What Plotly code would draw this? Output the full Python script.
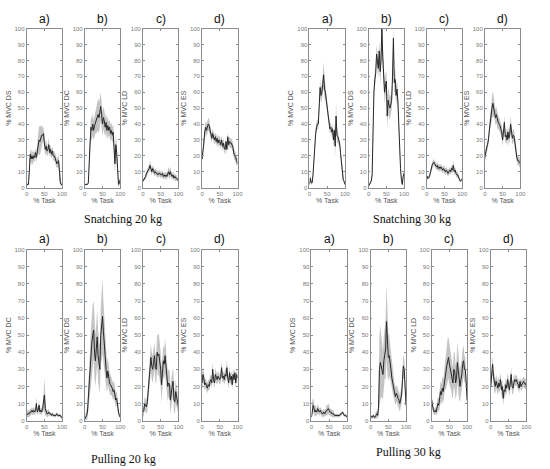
import plotly.graph_objects as go

W, H = 550, 469

CLR_BAND = "#c4c4c4"
CLR_MEAN = "#262626"
CLR_AXIS = "#8c8c8c"
CLR_TICK = "#7a7a7a"
FONT_SANS = "Liberation Sans, Arial, sans-serif"
FONT_SERIF = "Liberation Serif, Times New Roman, serif"

# % of task (x values shared by all panels)
TASK = [0, 2.5, 5, 7.5, 10, 12.5, 15, 17.5, 20, 22.5, 25, 27.5, 30, 32.5, 35, 37.5, 40, 42.5, 45, 47.5,
        50, 52.5, 55, 57.5, 60, 62.5, 65, 67.5, 70, 72.5, 75, 77.5, 80, 82.5, 85, 87.5, 90, 92.5, 95, 97.5, 100]

PANEL_TAGS = ["a)", "b)", "c)", "d)"]

# ---- Snatching 20 kg
SN20_MUSCLES = ["DS", "DC", "LD", "ES"]
SN20_A_MEAN = [2, 2, 2, 10, 21, 18, 20, 18, 20, 19, 22, 19, 23, 27, 30, 29, 31, 33, 33, 34,
               28, 24, 26, 23, 24, 27, 22, 24, 21, 23, 20, 20, 19, 17, 15, 16, 17, 10, 3, 2, 2]
SN20_A_SD = [0.5, 0.5, 1, 4, 4, 4, 4, 4, 3, 3, 3, 3, 4, 6, 9, 9, 8, 6, 5, 4,
             4, 4, 4, 3, 4, 4, 3, 3, 3, 3, 3, 3, 3, 3, 3, 3, 4, 5, 2, 1, 1]
SN20_B_MEAN = [2, 2, 2, 2, 3, 20, 28, 38, 36, 40, 36, 39, 41, 42, 44, 46, 44, 47, 51, 46,
               40, 44, 42, 38, 41, 36, 39, 36, 38, 34, 36, 33, 35, 25, 15, 27, 22, 12, 2, 3, 5]
SN20_B_SD = [0.5, 0.5, 0.5, 0.5, 1, 5, 6, 7, 7, 7, 6, 6, 7, 8, 9, 10, 10, 9, 9, 8,
             7, 7, 7, 6, 6, 6, 6, 5, 5, 5, 5, 5, 5, 6, 6, 6, 6, 4, 2, 2, 2]
SN20_C_MEAN = [4, 5, 6, 7, 9, 10, 11, 12, 14, 11, 10, 12, 11, 9, 10, 9, 9, 8, 9, 9,
               8, 8, 9, 7, 8, 7, 8, 7, 9, 10, 8, 10, 8, 7, 8, 6, 7, 6, 6, 5, 5]
SN20_C_SD = [1, 1, 1, 2, 2, 2, 2, 2, 3, 2, 2, 2, 2, 2, 2, 2, 2, 2, 2, 2,
             2, 2, 2, 2, 2, 2, 2, 2, 2, 3, 3, 3, 2, 2, 2, 2, 2, 2, 2, 1, 1]
SN20_D_MEAN = [18, 22, 28, 35, 38, 36, 38, 40, 39, 36, 33, 31, 34, 31, 30, 32, 29, 31, 28, 30,
               29, 27, 30, 26, 28, 25, 24, 29, 24, 32, 27, 29, 28, 28, 26, 25, 21, 20, 19, 17, 15]
SN20_D_SD = [2, 3, 3, 4, 4, 4, 4, 4, 4, 3, 3, 3, 3, 3, 3, 3, 3, 3, 3, 3,
             3, 3, 3, 3, 3, 3, 3, 3, 3, 3, 3, 3, 3, 3, 3, 3, 3, 3, 3, 3, 3]

# ---- Snatching 30 kg
SN30_MUSCLES = ["DC", "DS", "LD", "ES"]
SN30_A_MEAN = [2, 6, 3, 3, 8, 18, 28, 34, 38, 40, 40, 50, 63, 58, 60, 65, 71, 62, 60, 55,
               50, 45, 40, 37, 38, 35, 37, 30, 36, 26, 45, 33, 32, 29, 28, 22, 16, 10, 5, 4, 2]
SN30_A_SD = [1, 2, 1, 1, 2, 3, 3, 3, 3, 3, 3, 4, 5, 5, 5, 6, 8, 6, 5, 4,
             4, 4, 3, 3, 3, 3, 3, 4, 4, 6, 9, 5, 4, 3, 3, 3, 2, 2, 1, 1, 1]
SN30_B_MEAN = [1, 2, 3, 4, 8, 40, 60, 68, 72, 84, 78, 75, 86, 73, 80, 100, 82, 65, 60, 64,
               67, 45, 55, 52, 50, 52, 55, 70, 94, 66, 68, 58, 62, 55, 40, 20, 12, 5, 2, 7, 9]
SN30_B_SD = [1, 1, 1, 1, 2, 4, 4, 5, 5, 6, 6, 6, 7, 7, 8, 8, 8, 8, 7, 7,
             7, 8, 8, 8, 7, 6, 6, 7, 9, 7, 7, 6, 6, 5, 5, 4, 3, 2, 1, 2, 2]
SN30_C_MEAN = [5, 7, 6, 7, 9, 12, 14, 15, 16, 15, 14, 13, 14, 12, 13, 12, 13, 12, 11, 12,
               11, 10, 11, 10, 9, 10, 11, 10, 12, 11, 14, 10, 11, 9, 8, 8, 6, 5, 4, 5, 5]
SN30_C_SD = [1, 1, 1, 1, 2, 2, 2, 2, 2, 2, 2, 2, 2, 2, 2, 2, 2, 2, 2, 2,
             2, 2, 2, 2, 2, 2, 2, 2, 2, 2, 3, 2, 2, 2, 2, 2, 1, 1, 1, 1, 1]
SN30_D_MEAN = [19, 23, 25, 27, 30, 36, 42, 48, 50, 53, 50, 48, 44, 46, 42, 41, 40, 39, 37, 35,
               30, 38, 41, 32, 33, 30, 35, 31, 33, 40, 34, 31, 33, 32, 28, 22, 19, 17, 17, 16, 15]
SN30_D_SD = [3, 3, 3, 3, 3, 4, 5, 6, 7, 8, 6, 5, 5, 5, 5, 4, 4, 4, 4, 4,
             4, 4, 4, 4, 4, 4, 4, 4, 4, 5, 4, 4, 4, 4, 4, 4, 3, 3, 3, 3, 3]

# ---- Pulling 20 kg
PU20_MUSCLES = ["DC", "DS", "LD", "ES"]
PU20_A_MEAN = [3, 4, 4, 4, 5, 5, 6, 5, 6, 5, 6, 10, 5, 6, 9, 5, 6, 5, 7, 10,
               15, 7, 5, 4, 4, 5, 4, 4, 3, 4, 3, 3, 3, 3, 4, 3, 3, 3, 3, 2, 2]
PU20_A_SD = [2, 2, 2, 2, 2, 2, 2, 2, 2, 2, 2, 4, 2, 2, 3, 2, 2, 2, 2, 4,
             10, 4, 2, 2, 2, 2, 1, 1, 1, 1, 1, 1, 1, 1, 1, 1, 1, 1, 1, 1, 1]
PU20_B_MEAN = [1, 2, 3, 5, 14, 25, 28, 38, 46, 50, 53, 40, 35, 42, 49, 38, 32, 30, 50, 55,
               61, 52, 47, 38, 30, 25, 29, 24, 22, 21, 20, 19, 17, 18, 15, 12, 13, 8, 5, 3, 2]
PU20_B_SD = [1, 2, 3, 4, 8, 12, 14, 16, 18, 18, 17, 16, 15, 15, 16, 15, 14, 14, 16, 20,
             22, 18, 15, 12, 10, 9, 8, 7, 6, 6, 5, 5, 5, 5, 5, 4, 4, 3, 2, 1, 1]
PU20_C_MEAN = [5, 6, 10, 9, 8, 11, 18, 25, 30, 37, 32, 30, 34, 38, 31, 30, 40, 38, 39, 35,
               30, 21, 27, 35, 33, 38, 32, 25, 20, 22, 21, 12, 18, 20, 23, 12, 11, 17, 14, 10, 8]
PU20_C_SD = [3, 3, 4, 4, 4, 5, 6, 7, 8, 8, 8, 8, 8, 8, 8, 9, 10, 12, 12, 11,
             10, 10, 9, 9, 9, 10, 10, 10, 9, 8, 8, 8, 8, 8, 8, 7, 7, 7, 6, 5, 4]
PU20_D_MEAN = [22, 27, 25, 21, 22, 20, 19, 21, 20, 23, 24, 22, 30, 24, 22, 27, 25, 24, 26, 25,
               24, 25, 31, 25, 26, 24, 27, 26, 31, 25, 22, 28, 24, 26, 21, 27, 24, 28, 22, 27, 25]
PU20_D_SD = [5, 5, 4, 3, 3, 3, 3, 3, 3, 3, 3, 3, 4, 3, 3, 4, 3, 3, 3, 3,
             3, 3, 4, 3, 3, 3, 4, 3, 5, 3, 3, 4, 3, 3, 3, 3, 3, 3, 3, 3, 3]

# ---- Pulling 30 kg
PU30_MUSCLES = ["DS", "DC", "LD", "ES"]
PU30_A_MEAN = [2, 8, 9, 7, 5, 6, 5, 7, 6, 5, 6, 5, 4, 4, 5, 4, 5, 6, 6, 7,
               6, 5, 5, 4, 4, 4, 3, 3, 3, 3, 3, 3, 3, 4, 4, 5, 4, 3, 3, 3, 2]
PU30_A_SD = [1, 4, 4, 3, 3, 3, 2, 3, 2, 2, 2, 2, 2, 2, 2, 2, 2, 3, 3, 3,
             3, 2, 2, 2, 2, 2, 1, 1, 1, 1, 1, 1, 1, 1, 1, 1, 1, 1, 1, 1, 1]
PU30_B_MEAN = [3, 2, 2, 3, 2, 2, 3, 4, 3, 8, 30, 34, 32, 28, 27, 35, 40, 42, 58, 45,
               37, 38, 35, 30, 25, 22, 20, 17, 14, 16, 15, 13, 12, 10, 14, 15, 24, 32, 30, 20, 9]
PU30_B_SD = [1, 1, 1, 1, 1, 1, 2, 2, 2, 5, 20, 22, 18, 15, 14, 14, 15, 18, 22, 18,
             14, 12, 10, 8, 7, 6, 6, 5, 5, 5, 5, 5, 5, 5, 5, 5, 6, 7, 6, 5, 3]
PU30_C_MEAN = [12, 8, 6, 5, 6, 5, 7, 10, 9, 12, 17, 15, 19, 17, 22, 27, 28, 32, 36, 37,
               33, 30, 28, 24, 22, 30, 29, 22, 25, 34, 28, 22, 20, 24, 27, 33, 35, 30, 30, 22, 12]
PU30_C_SD = [3, 3, 2, 2, 2, 2, 3, 4, 4, 5, 6, 6, 7, 7, 8, 9, 10, 11, 12, 12,
             12, 11, 10, 10, 9, 10, 11, 10, 10, 12, 12, 10, 9, 9, 9, 9, 9, 8, 7, 6, 5]
PU30_D_MEAN = [20, 30, 33, 26, 21, 20, 23, 21, 19, 22, 20, 24, 18, 20, 13, 18, 17, 21, 19, 24,
               20, 18, 22, 27, 20, 19, 22, 24, 23, 24, 22, 21, 19, 23, 20, 21, 22, 23, 22, 21, 22]
PU30_D_SD = [4, 5, 5, 5, 5, 4, 4, 4, 4, 4, 4, 4, 4, 4, 4, 4, 4, 4, 4, 4,
             4, 4, 4, 4, 4, 4, 4, 3, 3, 3, 3, 3, 3, 3, 3, 3, 3, 3, 3, 3, 3]

GROUP_TITLES = ["Snatching 20 kg", "Snatching 30 kg", "Pulling 20 kg", "Pulling 30 kg"]
GROUP_MUSCLES = [SN20_MUSCLES, SN30_MUSCLES, PU20_MUSCLES, PU30_MUSCLES]
GROUP_SERIES = [
    [(SN20_A_MEAN, SN20_A_SD), (SN20_B_MEAN, SN20_B_SD), (SN20_C_MEAN, SN20_C_SD), (SN20_D_MEAN, SN20_D_SD)],
    [(SN30_A_MEAN, SN30_A_SD), (SN30_B_MEAN, SN30_B_SD), (SN30_C_MEAN, SN30_C_SD), (SN30_D_MEAN, SN30_D_SD)],
    [(PU20_A_MEAN, PU20_A_SD), (PU20_B_MEAN, PU20_B_SD), (PU20_C_MEAN, PU20_C_SD), (PU20_D_MEAN, PU20_D_SD)],
    [(PU30_A_MEAN, PU30_A_SD), (PU30_B_MEAN, PU30_B_SD), (PU30_C_MEAN, PU30_C_SD), (PU30_D_MEAN, PU30_D_SD)],
]

# layout in pixels: panel lefts, panel top/bottom, tag row y, group title y and centre x
GROUP_BOX = [
    dict(lefts=[25, 84, 143, 203], top=26, bottom=187, tag_y=16, title_y=219, title_x=123),
    dict(lefts=[312, 372, 431, 490], top=26, bottom=187, tag_y=16, title_y=219, title_x=416),
    dict(lefts=[25, 84, 143, 203], top=250, bottom=423, tag_y=239, title_y=462, title_x=123),
    dict(lefts=[314, 374, 436, 496], top=250, bottom=423, tag_y=239, title_y=455, title_x=412),
]
PANEL_W = 36

fig = go.Figure()
annotations = []
layout_axes = {}
n = 0
for g, box in enumerate(GROUP_BOX):
    for p in range(4):
        n += 1
        mean, sd = GROUP_SERIES[g][p]
        assert len(mean) == len(TASK) and len(sd) == len(TASK)
        xa = "x" if n == 1 else f"x{n}"
        ya = "y" if n == 1 else f"y{n}"
        upper = [m + s for m, s in zip(mean, sd)]
        lower = [max(m - s, 0) for m, s in zip(mean, sd)]
        fig.add_trace(go.Scatter(x=TASK, y=upper, mode="lines", line=dict(width=0, color=CLR_BAND),
                                 xaxis=xa, yaxis=ya, showlegend=False, hoverinfo="skip"))
        fig.add_trace(go.Scatter(x=TASK, y=lower, mode="lines", line=dict(width=0, color=CLR_BAND),
                                 fill="tonexty", fillcolor=CLR_BAND,
                                 xaxis=xa, yaxis=ya, showlegend=False, hoverinfo="skip"))
        fig.add_trace(go.Scatter(x=TASK, y=mean, mode="lines", line=dict(width=1, color=CLR_MEAN),
                                 xaxis=xa, yaxis=ya, showlegend=False))

        left = box["lefts"][p]
        x0, x1 = left / W, (left + PANEL_W) / W
        y0, y1 = 1 - box["bottom"] / H, 1 - box["top"] / H
        common = dict(showline=True, mirror="ticks", linecolor=CLR_AXIS, linewidth=0.8,
                      ticks="inside", ticklen=2, tickcolor=CLR_AXIS, showgrid=False, zeroline=False,
                      tickfont=dict(size=6, color=CLR_TICK, family=FONT_SANS))
        layout_axes["xaxis" if n == 1 else f"xaxis{n}"] = dict(
            common, domain=[x0, x1], range=[0, 100], tickvals=[0, 50, 100], anchor=ya,
            title=dict(text="% Task", font=dict(size=7, color="#555555", family=FONT_SANS), standoff=1))
        layout_axes["yaxis" if n == 1 else f"yaxis{n}"] = dict(
            common, domain=[y0, y1], range=[0, 100], dtick=10, anchor=xa,
            title=dict(text=f"% MVC {GROUP_MUSCLES[g][p]}",
                       font=dict(size=7, color="#555555", family=FONT_SANS), standoff=2))

        annotations.append(dict(text=PANEL_TAGS[p], x=(left + PANEL_W / 2) / W, y=1 - box["tag_y"] / H,
                                xref="paper", yref="paper", showarrow=False, xanchor="center", yanchor="middle",
                                font=dict(size=12, color="#111111", family=FONT_SANS)))
    annotations.append(dict(text=GROUP_TITLES[g], x=box["title_x"] / W, y=1 - box["title_y"] / H,
                            xref="paper", yref="paper", showarrow=False, xanchor="center", yanchor="middle",
                            font=dict(size=12, color="#111111", family=FONT_SERIF)))

fig.update_layout(width=W, height=H, margin=dict(l=0, r=0, t=0, b=0),
                  paper_bgcolor="white", plot_bgcolor="white", showlegend=False,
                  annotations=annotations, **layout_axes)

# drop the default page margin so the figure sits at the window's top-left corner
fig.write_html("out.html", config={"displayModeBar": False},
               post_script="document.body.style.margin='0';")
